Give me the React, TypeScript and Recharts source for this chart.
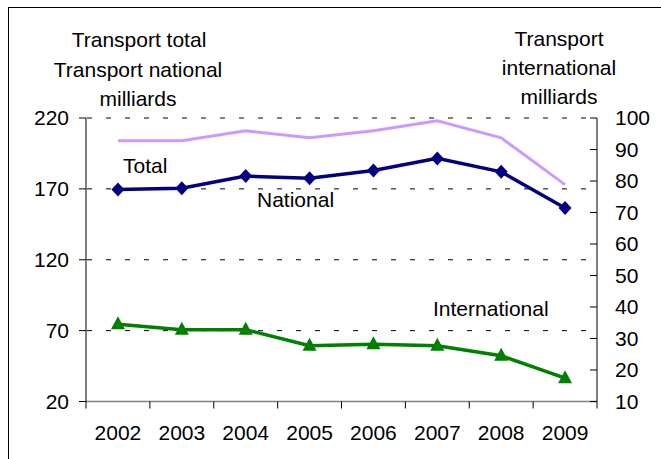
import { LineChart, Line, XAxis, YAxis, CartesianGrid, Customized } from "recharts";

const years = ["2002", "2003", "2004", "2005", "2006", "2007", "2008", "2009"];
const totalValues = [204, 204, 211, 206, 211, 218, 206, 173];
const nationalValues = [169.5, 170.5, 179, 177.5, 183, 191.5, 182, 156.5];
const internationalValues = [34.5, 32.8, 32.8, 27.7, 28.2, 27.7, 24.5, 17.4];
const leftTicks = [20, 70, 120, 170, 220];
const rightTicks = [10, 20, 30, 40, 50, 60, 70, 80, 90, 100];

const data = years.map((year, i) => ({
  year,
  total: totalValues[i],
  national: nationalValues[i],
  international: internationalValues[i],
}));

const FONT = "'Liberation Sans', Arial, sans-serif";
const HALF_BAND = 511 / 16;

const XTick = (props: any) => {
  const { x, y, payload, index } = props;
  return (
    <g>
      <line x1={x - HALF_BAND} x2={x - HALF_BAND} y1={y} y2={y + 7} stroke="#000" />
      {index === years.length - 1 && (
        <line x1={x + HALF_BAND} x2={x + HALF_BAND} y1={y} y2={y + 7} stroke="#000" />
      )}
      <text x={x} y={y + 38.5} textAnchor="middle" fontSize={21} fontFamily={FONT} fill="#000">
        {payload.value}
      </text>
    </g>
  );
};

const RightTick = (props: any) => {
  const { x, y, payload } = props;
  return (
    <g>
      <line x1={x - 25} x2={x - 18} y1={y} y2={y} stroke="#000" />
      <text x={x} y={y} dy="0.355em" textAnchor="start" fontSize={21} fontFamily={FONT} fill="#000">
        {payload.value}
      </text>
    </g>
  );
};

const Diamond = (props: any) => {
  const { cx, cy } = props;
  if (cx == null || cy == null) return null;
  return <path d={`M${cx},${cy - 7}L${cx + 6.5},${cy}L${cx},${cy + 7}L${cx - 6.5},${cy}Z`} fill="#000080" />;
};

const Triangle = (props: any) => {
  const { cx, cy } = props;
  if (cx == null || cy == null) return null;
  return <path d={`M${cx},${cy - 8}L${cx + 7},${cy + 5}L${cx - 7},${cy + 5}Z`} fill="#008000" />;
};

const Texts = () => (
  <g fontFamily={FONT} fontSize={21} fill="#000">
    <text x={139} y={47} textAnchor="middle">Transport total</text>
    <text x={138} y={77} textAnchor="middle">Transport national</text>
    <text x={138} y={106} textAnchor="middle">milliards</text>
    <text x={559} y={46} textAnchor="middle">Transport</text>
    <text x={559} y={75} textAnchor="middle">international</text>
    <text x={559} y={104} textAnchor="middle">milliards</text>
    <text x={123} y={172.5}>Total</text>
    <text x={257} y={206.5}>National</text>
    <text x={433} y={316}>International</text>
  </g>
);

export default function App() {
  return (
    <div style={{ position: "fixed", left: 0, top: 0, width: 661, height: 459, overflow: "hidden", background: "#fff" }}>
      <div
        style={{
          position: "absolute",
          left: 8,
          top: 7,
          width: 700,
          height: 500,
          borderLeft: "1px solid #000",
          borderTop: "1px solid #000",
        }}
      />
      <div style={{ position: "absolute", left: 0, top: 0 }}>
        <LineChart width={661} height={459} data={data} margin={{ top: 118, right: 14, left: 26, bottom: 17.5 }}>
          <CartesianGrid yAxisId="left" vertical={false} stroke="#000" strokeDasharray="5 14" strokeDashoffset={-1} />
          <XAxis
            dataKey="year"
            interval={0}
            padding={{ left: HALF_BAND, right: HALF_BAND }}
            tickLine={false}
            tickSize={0}
            tickMargin={0}
            height={40}
            axisLine={{ stroke: "#808080", strokeWidth: 1.5 }}
            tick={<XTick />}
          />
          <YAxis
            yAxisId="left"
            domain={[20, 220]}
            ticks={leftTicks}
            width={60}
            tickSize={7}
            tickMargin={10}
            axisLine={{ stroke: "#000" }}
            tickLine={{ stroke: "#000" }}
            tick={{ fontSize: 21, fontFamily: FONT, fill: "#000" }}
          />
          <YAxis
            yAxisId="right"
            orientation="right"
            domain={[10, 100]}
            ticks={rightTicks}
            width={50}
            tickSize={0}
            tickMargin={18}
            tickLine={false}
            axisLine={{ stroke: "#000" }}
            tick={<RightTick />}
          />
          <Line
            yAxisId="left"
            dataKey="total"
            stroke="#cc99ff"
            strokeWidth={3}
            dot={false}
            isAnimationActive={false}
          />
          <Line
            yAxisId="left"
            dataKey="national"
            stroke="#000080"
            strokeWidth={3.5}
            dot={<Diamond />}
            isAnimationActive={false}
          />
          <Line
            yAxisId="right"
            dataKey="international"
            stroke="#008000"
            strokeWidth={3.5}
            dot={<Triangle />}
            isAnimationActive={false}
          />
          <Customized component={Texts} />
        </LineChart>
      </div>
    </div>
  );
}
